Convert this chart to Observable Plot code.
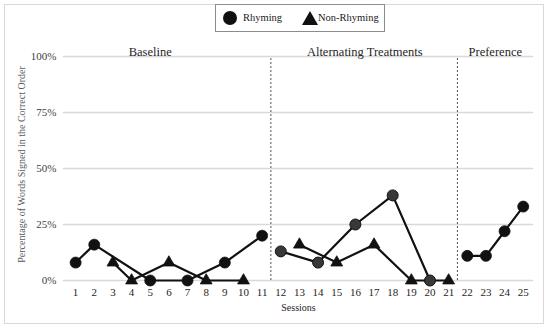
<!DOCTYPE html>
<html>
<head>
<meta charset="utf-8">
<script src="https://cdn.jsdelivr.net/npm/d3@7"></script>
<script src="https://cdn.jsdelivr.net/npm/@observablehq/plot@0.6"></script>
<style>
  html, body { margin: 0; padding: 0; background: #fff; }
  #wrap { position: relative; width: 550px; height: 328px; font-family: "Liberation Serif", Tinos, Times, "DejaVu Serif", serif; }
  #frame { position: absolute; left: 4px; top: 4px; width: 538px; height: 318px; border: 1px solid #d9d9d9; }
  #legend { position: absolute; left: 215px; top: 4px; width: 168px; height: 26px; border: 1px solid #8c8c8c; background: #fff; font-size: 10.5px; color: #1a1a1a; }
  #legend .item { position: absolute; top: 0; height: 26px; line-height: 26px; white-space: nowrap; }
  #legend .circ { position: absolute; width: 14px; height: 14px; border-radius: 50%; background: #111; top: 6px; }
  #legend .tri { position: absolute; width: 0; height: 0; border-left: 8px solid transparent; border-right: 8px solid transparent; border-bottom: 14px solid #111; top: 6px; }
  #chart { position: absolute; left: 0; top: 34px; }
  #chart svg, #chart svg text { font-family: "Liberation Serif", Tinos, Times, "DejaVu Serif", serif !important; }
</style>
</head>
<body>
<div id="wrap">
  <div id="frame"></div>
  <div id="chart"></div>
  <div id="legend">
    <div class="circ" style="left:7px"></div>
    <div class="item" style="left:27px">Rhyming</div>
    <div class="tri" style="left:86px"></div>
    <div class="item" style="left:102px">Non-Rhyming</div>
  </div>
</div>
<script>
// ---- data ----
const sessions = d3.range(1, 26);
const rhymingSessions = [1, 2, 5, 7, 9, 11, 12, 14, 16, 18, 20, 22, 23, 24, 25];
const rhymingValues   = [8, 16, 0, 0, 8, 20, 13, 8, 25, 38, 0, 11, 11, 22, 33];
const nonRhymingSessions = [3, 4, 6, 8, 10, 13, 15, 17, 19, 21];
const nonRhymingValues   = [8, 0, 8, 0, 0, 16, 8, 16, 0, 0];
const phaseNames = ["Baseline", "Alternating Treatments", "Preference"];
const phaseStarts = [1, 12, 22];
const phaseEnds = [11, 21, 25];
const yTicks = [0, 25, 50, 75, 100];

const phaseOf = s => phaseEnds.findIndex(e => s <= e);
const rhyming = rhymingSessions.map((s, i) => ({session: s, value: rhymingValues[i], phase: phaseOf(s)}));
const nonRhyming = nonRhymingSessions.map((s, i) => ({session: s, value: nonRhymingValues[i], phase: phaseOf(s)}));
const phases = phaseNames.map((name, i) => ({name, mid: (phaseStarts[i] + phaseEnds[i]) / 2 - (i === 0 ? 1 : 0)}));
const boundaries = phaseEnds.slice(0, -1).map(e => e + 0.47);

const serif = "'Liberation Serif', Tinos, Times, 'DejaVu Serif', serif";
const chart = Plot.plot({
  width: 550,
  height: 294,
  marginTop: 22,
  marginBottom: 48,
  marginLeft: 63,
  marginRight: 17,
  style: {fontFamily: serif, fontSize: "11px", color: "#333", background: "transparent"},
  x: {type: "linear", domain: [0.35, 25.55], axis: null},
  y: {domain: [0, 100], axis: null},
  marks: [
    Plot.ruleY(yTicks, {stroke: "#d9d9d9", strokeWidth: 1.4}),
    Plot.ruleX(boundaries, {y1: 0, y2: 100, stroke: "#555", strokeWidth: 1, strokeDasharray: "2,2"}),
    Plot.axisX(sessions, {tickSize: 0, tickPadding: 8, tickFormat: d => String(d), fontSize: 11, fill: "#262626", label: null}),
    Plot.axisY(yTicks, {tickSize: 0, tickPadding: 7, tickFormat: d => d + "%", fontSize: 11, fill: "#404040", label: null}),
    Plot.text(["Sessions"], {frameAnchor: "bottom", dy: 30, fontSize: 10, fill: "#262626"}),
    Plot.text(["Percentage of Words Signed in the Correct Order"], {frameAnchor: "left", textAnchor: "middle", dx: -42, dy: -4, rotate: -90, fontSize: 10, fill: "#595959"}),
    Plot.text(phases, {x: "mid", text: "name", frameAnchor: "top", dy: -9, fontSize: 12.5, fill: "#262626"}),
    Plot.line(rhyming, {x: "session", y: "value", z: "phase", stroke: "#111", strokeWidth: 2.2}),
    Plot.line(nonRhyming, {x: "session", y: "value", z: "phase", stroke: "#111", strokeWidth: 2.2}),
    Plot.dot(rhyming.filter(d => d.phase !== 1), {x: "session", y: "value", r: 5.5, fill: "#111", stroke: "#111", strokeWidth: 0.8}),
    Plot.dot(rhyming.filter(d => d.phase === 1), {x: "session", y: "value", r: 5.5, fill: "#383838", stroke: "#111", strokeWidth: 1}),
    Plot.dot(nonRhyming, {x: "session", y: "value", symbol: "triangle", r: 4.4, fill: "#111", stroke: "#111", strokeWidth: 0.8})
  ]
});
document.getElementById("chart").appendChild(chart);
</script>
</body>
</html>
